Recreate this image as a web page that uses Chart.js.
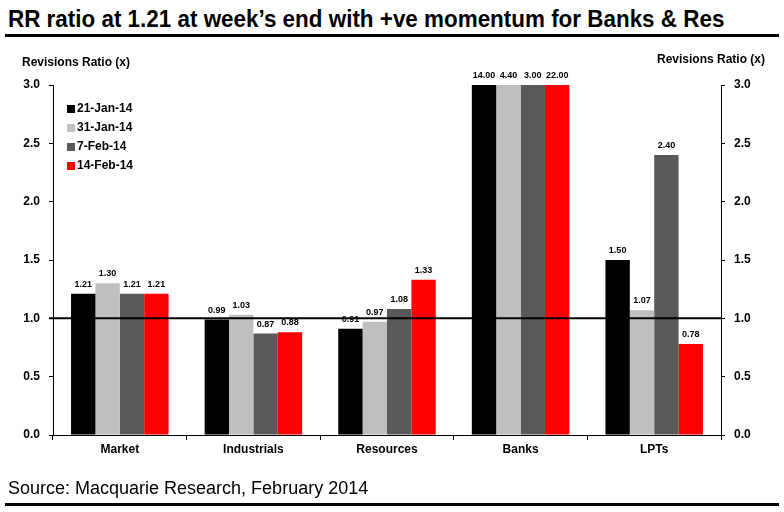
<!DOCTYPE html>
<html>
<head>
<meta charset="utf-8">
<script src="https://cdn.jsdelivr.net/npm/chart.js@4"></script>
<style>
  body { margin: 0; background: #fff; width: 784px; height: 512px; position: relative; overflow: hidden; }
  #title { position: absolute; left: 8px; top: 6px; font: bold 23px "Liberation Sans Narrow", "Arial Narrow", "Liberation Sans", Arial, sans-serif; color: #000; white-space: nowrap; transform: scaleX(0.975); transform-origin: left top; }
  .rule { position: absolute; left: 5px; width: 774px; height: 3px; background: #000; }
  #source { position: absolute; left: 8px; top: 478px; font: 18px "Liberation Sans Narrow", "Arial Narrow", "Liberation Sans", Arial, sans-serif; color: #000; white-space: nowrap; }
  #wrap { position: absolute; left: 0; top: 40px; width: 784px; height: 440px; }
</style>
</head>
<body>
<div id="title">RR ratio at 1.21 at week’s end with +ve momentum for Banks &amp; Res</div>
<div class="rule" style="top:34px"></div>
<div id="wrap"><canvas id="michael"></canvas></div>
<div id="source">Source: Macquarie Research, February 2014</div>
<div class="rule" style="top:503px"></div>
<script>
// categories and series (Banks values run off the 3.0 axis, labels show real value)
var sectors = ["Market", "Industrials", "Resources", "Banks", "LPTs"];
var jan21 = [1.21, 0.99, 0.91, 14.00, 1.50];
var jan31 = [1.30, 1.03, 0.97, 4.40, 1.07];
var feb7 = [1.21, 0.87, 1.08, 3.00, 2.40];
var feb14 = [1.21, 0.88, 1.33, 22.00, 0.78];
var seriesNames = ["21-Jan-14", "31-Jan-14", "7-Feb-14", "14-Feb-14"];
var seriesColours = ["#000000", "#BFBFBF", "#595959", "#FF0000"];
var yTicks = [0, 0.5, 1.0, 1.5, 2.0, 2.5, 3.0];
var yMax = 3.0;
var refLine = 1.0;

var boldFont = "bold 12px 'Liberation Sans', Arial, sans-serif";

// labels above bars, ref line at 1.0, legend, axis titles
var extras = {
  id: "extras",
  afterDatasetsDraw: function (chart) {
    var c = chart.ctx;
    var y = chart.scales.y;
    var area = chart.chartArea;
    c.save();
    // data labels
    c.font = "bold 9px 'Liberation Sans', Arial, sans-serif";
    c.fillStyle = "#000";
    c.textAlign = "center";
    c.textBaseline = "alphabetic";
    chart.data.datasets.forEach(function (ds, i) {
      chart.getDatasetMeta(i).data.forEach(function (bar, j) {
        var v = ds.data[j];
        var top = y.getPixelForValue(Math.min(v, yMax));
        c.fillText(v.toFixed(2), bar.x, top - 7);
      });
    });
    // reference line
    var ly = y.getPixelForValue(refLine);
    c.strokeStyle = "#000";
    c.lineWidth = 2;
    c.beginPath();
    c.moveTo(area.left - 4, ly);
    c.lineTo(area.right, ly);
    c.stroke();
    // legend
    c.font = boldFont;
    c.textAlign = "left";
    c.textBaseline = "middle";
    seriesNames.forEach(function (name, i) {
      var ry = area.top + 24 + i * 19;
      c.fillStyle = seriesColours[i];
      c.fillRect(area.left + 14, ry - 4, 8, 8);
      c.fillStyle = "#000";
      c.fillText(name, area.left + 24, ry);
    });
    // axis titles
    c.textAlign = "left";
    c.fillText("Revisions Ratio (x)", 22, 23);
    c.textAlign = "right";
    c.fillText("Revisions Ratio (x)", 765, 20);
    c.restore();
  }
};

var ctx = document.getElementById("michael");
var context = ctx.getContext("2d");

var myChart = new Chart(context, {
  type: "bar",
  data: {
    labels: sectors,
    datasets: [jan21, jan31, feb7, feb14].map(function (d, i) {
      return {
        label: seriesNames[i],
        data: d,
        backgroundColor: seriesColours[i],
        borderWidth: 0,
        categoryPercentage: 0.73,
        barPercentage: 1.0
      };
    })
  },
  options: {
    responsive: true,
    maintainAspectRatio: false,
    animation: false,
    layout: { padding: { top: 45, bottom: 0, left: 0, right: 0 } },
    plugins: { legend: { display: false }, tooltip: { enabled: false } },
    scales: {
      x: {
        grid: { drawOnChartArea: false, drawTicks: true, tickLength: 5, color: "#000", offset: true },
        border: { color: "#000", width: 1 },
        ticks: { color: "#000", font: { family: "'Liberation Sans', Arial, sans-serif", weight: "bold", size: 12 }, padding: 2 },
        afterFit: function (s) { s.height = 45; }
      },
      y: {
        position: "left",
        min: 0, max: yMax,
        afterBuildTicks: function (s) { s.ticks = yTicks.map(function (v) { return { value: v }; }); },
        grid: { drawOnChartArea: false, drawTicks: true, tickLength: 4, color: "#000" },
        border: { color: "#000", width: 1 },
        ticks: { color: "#000", font: { family: "'Liberation Sans', Arial, sans-serif", weight: "bold", size: 12 }, padding: 9,
          callback: function (v) { return Number(v).toFixed(1); } },
        afterFit: function (s) { s.width = 53; }
      },
      y2: {
        position: "right",
        min: 0, max: yMax,
        afterBuildTicks: function (s) { s.ticks = yTicks.map(function (v) { return { value: v }; }); },
        grid: { drawOnChartArea: false, drawTicks: true, tickLength: 4, color: "#000" },
        border: { color: "#000", width: 1 },
        ticks: { color: "#000", font: { family: "'Liberation Sans', Arial, sans-serif", weight: "bold", size: 12 }, padding: 9,
          callback: function (v) { return Number(v).toFixed(1); } },
        afterFit: function (s) { s.width = 63; }
      }
    }
  },
  plugins: [extras]
});
</script>
</body>
</html>
